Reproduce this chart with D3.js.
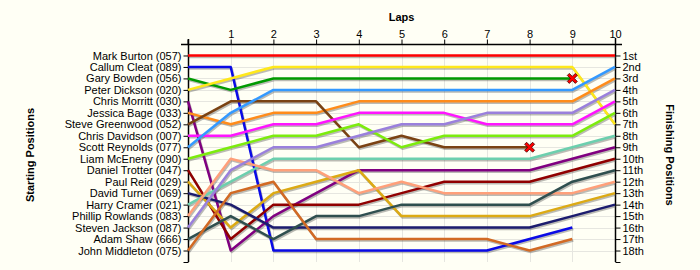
<!DOCTYPE html>
<html lang="en">
<head>
<meta charset="UTF-8">
<title>Race Positions by Lap</title>
<script src="https://d3js.org/d3.v7.min.js"></script>
<style>
    body { margin: 0; padding: 0; background: #fffff5; }
    svg { display: block; font-family: "Liberation Sans", Arial, sans-serif; }
    .tick-label { font-size: 11px; fill: #000; }
    .axis-title { font-size: 11px; font-weight: bold; fill: #000; }
</style>
</head>
<body>
<svg id="chart" width="700" height="270"></svg>
<script>
// Drivers in starting order
const drivers = [
    "Mark Burton (057)", "Callum Cleat (089)", "Gary Bowden (056)", "Peter Dickson (020)",
    "Chris Morritt (030)", "Jessica Bage (033)", "Steve Greenwood (052)", "Chris Davidson (007)",
    "Scott Reynolds (077)", "Liam McEneny (090)", "Daniel Trotter (047)", "Paul Reid (029)",
    "David Turner (069)", "Harry Cramer (021)", "Phillip Rowlands (083)", "Steven Jackson (087)",
    "Adam Shaw (666)", "John Middleton (075)"
];
const colors = [
    "#ff0000", "#0a0ae6", "#009a00", "#ffe81a", "#800080", "#ff8c1a", "#7a4212", "#ff14ff",
    "#3399ff", "#7cec0c", "#900000", "#dcaa14", "#1c1c6e", "#6ccfae", "#ffa07a", "#9a80dc",
    "#2f4f4f", "#d26a24"
];
// position at lap 0..n (lap 0 = grid)
const positions = [
    [1, 1, 1, 1, 1, 1, 1, 1, 1, 1, 1],
    [2, 2, 18, 18, 18, 18, 18, 18, 17, 16],
    [3, 4, 3, 3, 3, 3, 3, 3, 3, 3],
    [4, 3, 2, 2, 2, 2, 2, 2, 2, 2, 7],
    [5, 18, 15, 13, 11, 11, 11, 11, 11, 10, 9],
    [6, 7, 6, 6, 5, 5, 5, 5, 5, 5, 3],
    [7, 5, 5, 5, 9, 8, 9, 9, 9],
    [8, 8, 7, 7, 6, 6, 6, 7, 7, 7, 5],
    [9, 6, 4, 4, 4, 4, 4, 4, 4, 4, 2],
    [10, 9, 8, 8, 7, 9, 8, 8, 8, 8, 6],
    [11, 17, 14, 14, 14, 13, 12, 12, 12, 11, 10],
    [12, 16, 13, 12, 11, 15, 15, 15, 15, 14, 13],
    [13, 14, 16, 16, 16, 16, 16, 16, 16, 15, 14],
    [14, 12, 10, 10, 10, 10, 10, 10, 10, 9, 8],
    [15, 10, 11, 11, 13, 12, 13, 13, 13, 13, 12],
    [16, 11, 9, 9, 8, 7, 7, 6, 6, 6, 4],
    [17, 15, 17, 15, 15, 14, 14, 14, 14, 12, 11],
    [18, 13, 12, 17, 17, 17, 17, 17, 18, 17]
];
// drivers that retired (index into drivers) - marked with a cross on last lap
const retired = [2, 6];
const laps = [1, 2, 3, 4, 5, 6, 7, 8, 9, 10];
const finishLabels = ["1st", "2nd", "3rd", "4th", "5th", "6th", "7th", "8th", "9th", "10th",
    "11th", "12th", "13th", "14th", "15th", "16th", "17th", "18th"];

const svg = d3.select("#chart");
const x = d3.scaleLinear().domain([0, 10]).range([188, 615]);
const y = d3.scaleLinear().domain([0, 19]).range([44, 262]);

// grid
const grid = svg.append("g").attr("stroke", "#e6e6e0").attr("stroke-width", 1);
grid.selectAll(".vg").data(laps.slice(0, -1)).enter().append("line")
    .attr("x1", d => Math.round(x(d)) + 0.5).attr("x2", d => Math.round(x(d)) + 0.5)
    .attr("y1", y(0)).attr("y2", y(19));
grid.selectAll(".hg").data(d3.range(1, 19)).enter().append("line")
    .attr("x1", x(0)).attr("x2", x(10))
    .attr("y1", d => Math.round(y(d)) + 0.5).attr("y2", d => Math.round(y(d)) + 0.5);

// axes
const topAxis = d3.axisTop(x).tickValues(laps).tickSize(5).tickFormat(d3.format("d"));
const gTop = svg.append("g").attr("transform", `translate(0,${Math.round(y(0)) + 0.5})`).call(topAxis);
gTop.select(".domain").attr("d", `M${x(0) - 7},0H${x(10) + 7}`).attr("stroke-width", 1.5);
gTop.append("line").attr("x1", x(0)).attr("x2", x(0)).attr("y1", -5).attr("y2", 0).attr("stroke", "#000");

const leftAxis = d3.axisLeft(y).tickValues(d3.range(1, 20)).tickSize(5)
    .tickFormat(d => d <= drivers.length ? drivers[d - 1] : "");
const gLeft = svg.append("g").attr("transform", `translate(${Math.round(x(0)) + 0.5},0)`).call(leftAxis);
gLeft.select(".domain").attr("d", `M0,${y(0) - 5}V${y(19)}`).attr("stroke-width", 1.5);

const rightAxis = d3.axisRight(y).tickValues(d3.range(1, 20)).tickSize(5)
    .tickFormat(d => d <= finishLabels.length ? finishLabels[d - 1] : "");
const gRight = svg.append("g").attr("transform", `translate(${Math.round(x(10)) + 0.5},0)`).call(rightAxis);
gRight.select(".domain").attr("d", `M0,${y(0) - 6}V${y(19)}`).attr("stroke-width", 1.5);

[gTop, gLeft, gRight].forEach(g => {
    g.selectAll("text").attr("class", "tick-label");
    g.attr("font-family", null).attr("font-size", null);
});
gLeft.selectAll("text").attr("x", -7);
gRight.selectAll("text").attr("x", 7);
gTop.selectAll("text").attr("y", -7);

// titles
svg.append("text").attr("class", "axis-title").attr("x", (x(0) + x(10)) / 2).attr("y", 21)
    .attr("text-anchor", "middle").text("Laps");
svg.append("text").attr("class", "axis-title").attr("text-anchor", "middle")
    .attr("transform", `translate(34,${(y(0) + y(19)) / 2 + 2}) rotate(-90)`).text("Starting Positions");
svg.append("text").attr("class", "axis-title").attr("text-anchor", "middle")
    .attr("transform", `translate(666,${(y(0) + y(19)) / 2 + 2}) rotate(90)`).text("Finishing Positions");

// lines
const line = d3.line().x((d, i) => x(i)).y(d => y(d));
const series = svg.append("g");
series.selectAll(".shadow").data(positions).enter().append("path")
    .attr("d", line).attr("fill", "none")
    .attr("stroke", "rgba(60,60,60,0.35)").attr("stroke-width", 2.5)
    .attr("stroke-linejoin", "round")
    .attr("transform", "translate(1,1.5)");
series.selectAll(".race").data(positions).enter().append("path")
    .attr("d", line).attr("fill", "none")
    .attr("stroke", (d, i) => colors[i]).attr("stroke-width", 2.5)
    .attr("stroke-linejoin", "round");

// retirement crosses
const cross = "M-5,-3L-3,-5L0,-2L3,-5L5,-3L2,0L5,3L3,5L0,2L-3,5L-5,3L-2,0Z";
svg.selectAll(".cross").data(retired).enter().append("path")
    .attr("d", cross)
    .attr("transform", d => {
        const p = positions[d];
        return `translate(${x(p.length - 1)},${y(p[p.length - 1])})`;
    })
    .attr("fill", "#ff0000").attr("stroke", "#400000").attr("stroke-width", 0.8);
</script>
</body>
</html>
